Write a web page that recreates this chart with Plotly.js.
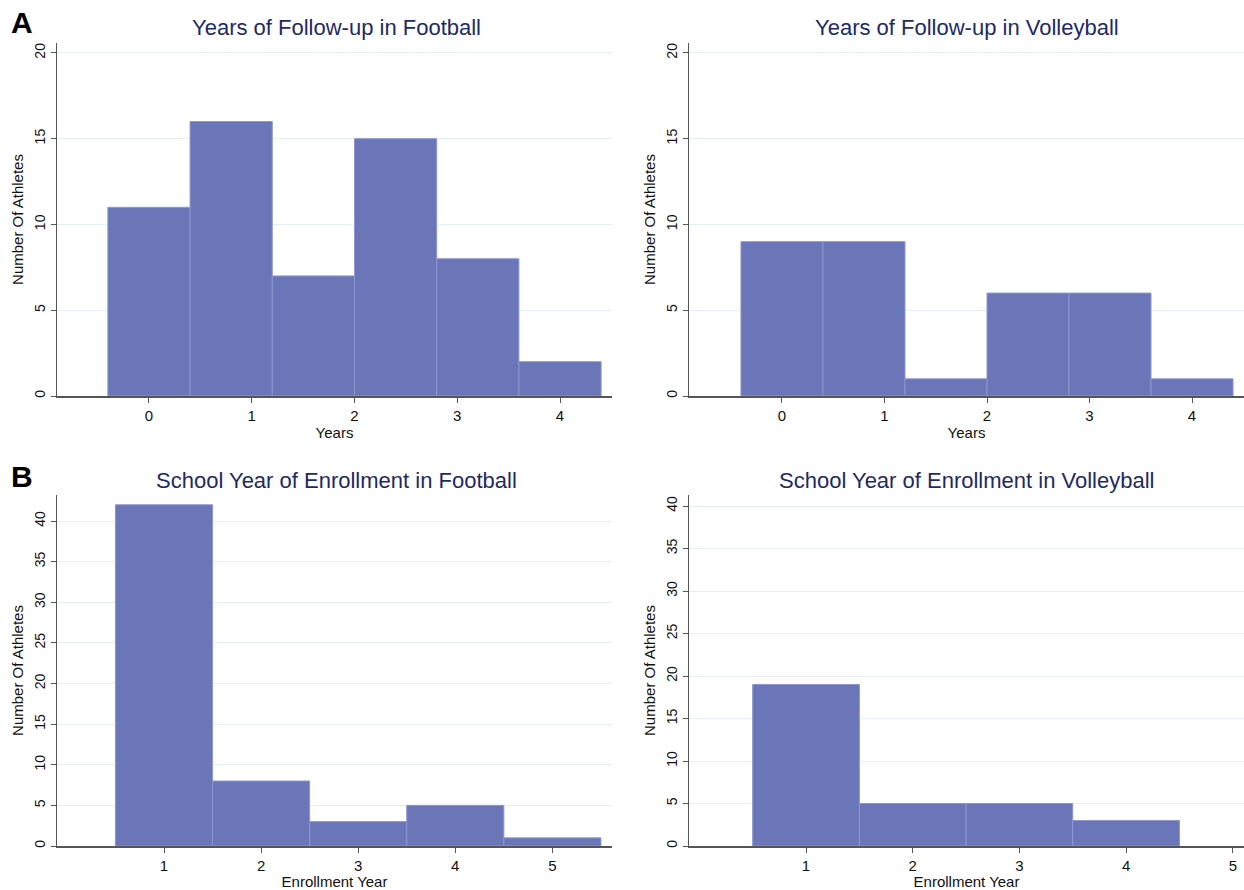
<!DOCTYPE html>
<html>
<head>
<meta charset="utf-8">
<script src="https://cdn.plot.ly/plotly-3.0.1.min.js"></script>
<style>html,body{margin:0;padding:0;background:#fff;}#chart{width:1244px;height:890px;}</style>
</head>
<body>
<div id="chart"></div>
<script>
// ---- Data ----
const followupBinEdges = [-0.4, 0.4, 1.2, 2.0, 2.8, 3.6, 4.4];
const followupFootball = [11, 16, 7, 15, 8, 2];
const followupVolleyball = [9, 9, 1, 6, 6, 1];
const followupTicks = [0, 1, 2, 3, 4];

const enrollmentYearsFootball = [1, 2, 3, 4, 5];
const enrollmentFootball = [42, 8, 3, 5, 1];
const enrollmentYearsVolleyball = [1, 2, 3, 4];
const enrollmentVolleyball = [19, 5, 5, 3];
const enrollmentTicks = [1, 2, 3, 4, 5];

const panelTitles = [
  "Years of Follow-up in Football",
  "Years of Follow-up in Volleyball",
  "School Year of Enrollment in Football",
  "School Year of Enrollment in Volleyball"
];
const panelLetters = ["A", "B"];
const yTitle = "Number Of Athletes";
const xTitles = ["Years", "Enrollment Year"];

// ---- Styling ----
const FONT = "Liberation Sans, Arial, Helvetica, sans-serif";
const barColor = "#6a76b8";
const barLine = "#8d96cf";
const titleColor = "#1e2a66";
const axisColor = "#555555";
const gridColor = "#e6eff1";
const textColor = "#111111";

const centers = followupBinEdges.slice(0, -1).map((e, i) => (e + followupBinEdges[i + 1]) / 2);
const widths = followupBinEdges.slice(0, -1).map((e, i) => followupBinEdges[i + 1] - e);

function barTrace(x, y, w, xa, ya) {
  return {
    type: "bar", x: x, y: y, width: w, xaxis: xa, yaxis: ya,
    marker: { color: barColor, line: { color: barLine, width: 1 } },
    hoverinfo: "x+y"
  };
}

const data = [
  barTrace(centers, followupFootball, widths, "x", "y"),
  barTrace(centers, followupVolleyball, widths, "x2", "y2"),
  barTrace(enrollmentYearsFootball, enrollmentFootball, enrollmentYearsFootball.map(() => 1), "x3", "y3"),
  barTrace(enrollmentYearsVolleyball, enrollmentVolleyball, enrollmentYearsVolleyball.map(() => 1), "x4", "y4")
];

function xaxis(domain, range, ticks, title, anchor) {
  return {
    domain: domain, range: range, anchor: anchor,
    tickmode: "array", tickvals: ticks, ticktext: ticks.map(String),
    ticks: "outside", ticklen: 5, tickwidth: 1, tickcolor: axisColor,
    showline: true, linecolor: axisColor, linewidth: 1.5,
    showgrid: false, zeroline: false,
    tickfont: { family: FONT, size: 15, color: textColor },
    title: { text: title, font: { family: FONT, size: 15, color: textColor }, standoff: 0 }
  };
}
function yaxis(domain, range, dtick, anchor) {
  return {
    domain: domain, range: range, anchor: anchor,
    tick0: 0, dtick: dtick,
    ticks: "outside", ticklen: 5, tickwidth: 1, tickcolor: axisColor,
    showline: true, linecolor: axisColor, linewidth: 1.5,
    showgrid: true, gridcolor: gridColor, gridwidth: 1, zeroline: false,
    tickangle: -90,
    tickfont: { family: FONT, size: 14, color: textColor },
    title: { text: yTitle, font: { family: FONT, size: 15, color: textColor }, standoff: 4 }
  };
}

const W = 1244, H = 890;
const xdA = [57 / W, 612 / W], xdB = [689 / W, 1];
const ydTop = [(H - 396) / H, (H - 43) / H], ydBot = [(H - 846) / H, (H - 495) / H];

const annotations = [];
const tpos = [[336, 28], [967, 28], [336, 480], [967, 480]];
panelTitles.forEach((t, i) => {
  annotations.push({
    text: t, xref: "paper", yref: "paper", x: tpos[i][0] / W, y: (H - tpos[i][1]) / H,
    xanchor: "center", yanchor: "middle", showarrow: false,
    font: { family: FONT, size: 22, color: titleColor }
  });
});
const lpos = [[22, 23], [22, 477]];
panelLetters.forEach((t, i) => {
  annotations.push({
    text: "<b>" + t + "</b>", xref: "paper", yref: "paper", x: lpos[i][0] / W, y: (H - lpos[i][1]) / H,
    xanchor: "center", yanchor: "middle", showarrow: false,
    font: { family: FONT, size: 30, color: "#000" }
  });
});

const layout = {
  width: W, height: H,
  margin: { l: 0, r: 0, t: 0, b: 0 },
  paper_bgcolor: "#fff", plot_bgcolor: "#fff",
  showlegend: false, bargap: 0,
  xaxis: xaxis(xdA, [-0.895, 4.506], followupTicks, xTitles[0], "y"),
  yaxis: yaxis(ydTop, [0, 20.58], 5, "x"),
  xaxis2: xaxis(xdB, [-0.907, 4.507], followupTicks, xTitles[0], "y2"),
  yaxis2: yaxis(ydTop, [0, 20.58], 5, "x2"),
  xaxis3: xaxis(xdA, [-0.102, 5.614], enrollmentTicks, xTitles[1], "y3"),
  yaxis3: yaxis(ydBot, [0, 43.2], 5, "x3"),
  xaxis4: xaxis(xdB, [-0.097, 5.105], enrollmentTicks, xTitles[1], "y4"),
  yaxis4: yaxis(ydBot, [0, 41.3], 5, "x4"),
  annotations: annotations
};

Plotly.newPlot("chart", data, layout, { displayModeBar: false, staticPlot: true });
</script>
</body>
</html>
